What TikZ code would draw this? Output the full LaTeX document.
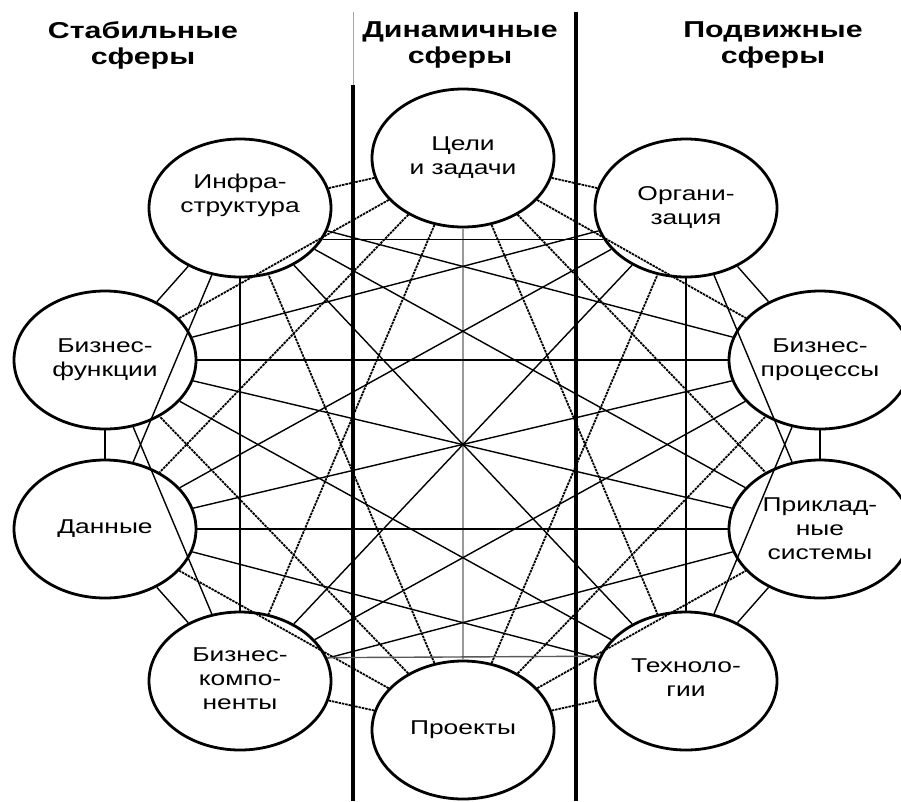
\documentclass[tikz,border=0pt]{standalone}
\usepackage{fontspec}
\setmainfont{Liberation Sans}
\newfontfamily\widesans[FakeStretch=1.32]{Liberation Sans}
\usetikzlibrary{shapes.geometric}

\begin{document}
\begin{tikzpicture}[x=1pt, y=-1pt,
  sphere/.style={ellipse, draw, line width=2.8pt, minimum width=182pt,
    minimum height=138pt, inner sep=0pt},
  spheretext/.style={font=\widesans\fontsize{20}{24}\selectfont, align=center},
  head/.style={font=\widesans\bfseries\fontsize{23}{26}\selectfont, align=center},
  link/.style={line width=1.4pt},
  dynlink/.style={line width=1.8pt, dash pattern=on 2.5pt off 0.9pt},
  divider/.style={line width=3.4pt},
]
\useasboundingbox (0,0) rectangle (901,801);
\fill[white] (0,0) rectangle (901,801);

% column headings
\node[head] (hstable) at (143,45) {Стабильные\\сферы};
\node[head] (hdyn)    at (460,45) {Динамичные\\сферы};
\node[head] (hmove)   at (773,45) {Подвижные\\сферы};

% column dividers
\coordinate (dlTop) at (353,12);
\coordinate (dlMid) at (353,85);
\coordinate (dlBot) at (353,801);
\coordinate (drTop) at (576,12);
\coordinate (drBot) at (576,801);
\draw[line width=0.9pt, black!35] (dlTop) -- (dlMid);
\draw[divider] (dlMid) -- (dlBot);
\draw[divider] (drTop) -- (drBot);

% the ten spheres
\node[sphere, label={[spheretext]center:Цели\\и задачи}] (C) at (463,158) {};
\node[sphere, label={[spheretext]center:Органи-\\зация}] (O) at (686,208) {};
\node[sphere, label={[spheretext]center:Бизнес-\\процессы}] (BP) at (820,360) {};
\node[sphere, label={[spheretext]center:Приклад-\\ные\\системы}] (PS) at (820,529) {};
\node[sphere, label={[spheretext, yshift=3pt]center:Техноло-\\гии}] (T) at (686,681) {};
\node[sphere, label={[spheretext]center:Проекты}] (P) at (463,730) {};
\node[sphere, label={[spheretext, yshift=2pt]center:Бизнес-\\компо-\\ненты}] (BK) at (240,681) {};
\node[sphere, label={[spheretext]center:Данные}] (D) at (105,529) {};
\node[sphere, label={[spheretext]center:Бизнес-\\функции}] (BF) at (105,360) {};
\node[sphere, label={[spheretext, yshift=13pt]center:Инфра-\\структура}] (I) at (240,208) {};

% links between neighbouring spheres
\draw[link] (O) -- (BP);
\draw[link] (BP) -- (PS);
\draw[link] (PS) -- (T);
\draw[link] (BK) -- (D);
\draw[link] (D) -- (BF);
\draw[link] (BF) -- (I);

% links of the dynamic spheres
\draw[dynlink] (C) -- (O);
\draw[dynlink] (C) -- (I);
\draw[dynlink] (C) -- (BP);
\draw[dynlink] (C) -- (PS);
\draw[dynlink] (C) -- (T);
\draw[dynlink] (C) -- (BK);
\draw[dynlink] (C) -- (D);
\draw[dynlink] (C) -- (BF);
\draw[line width=2.6pt, black!40] (C) -- (P);
\draw[dynlink] (P) -- (T);
\draw[dynlink] (P) -- (BK);
\draw[dynlink] (P) -- (O);
\draw[dynlink] (P) -- (BP);
\draw[dynlink] (P) -- (PS);
\draw[dynlink] (P) -- (D);
\draw[dynlink] (P) -- (BF);
\draw[dynlink] (P) -- (I);

% remaining links across the ring
\draw[link] (I.-21.6) -- (O.201.6);
\draw[link] (O) -- (PS);
\draw[link] (O) -- (T);
\draw[link] (O) -- (BK);
\draw[link] (O) -- (D);
\draw[link] (O) -- (BF);
\draw[link] (BP) -- (T);
\draw[link] (BP) -- (BK);
\draw[link] (BP) -- (D);
\draw[link] (BP) -- (BF);
\draw[link] (BP) -- (I);
\draw[link] (PS) -- (BK);
\draw[link] (PS) -- (D);
\draw[link] (PS) -- (BF);
\draw[link] (PS) -- (I);
\draw[link, black!65] (BK.15.7) -- (T.164.3);
\draw[link] (T) -- (D);
\draw[link] (T) -- (BF);
\draw[link] (T) -- (I);
\draw[link] (BK) -- (BF);
\draw[link] (BK) -- (I);
\draw[link] (D) -- (I);
\end{tikzpicture}
\end{document}
